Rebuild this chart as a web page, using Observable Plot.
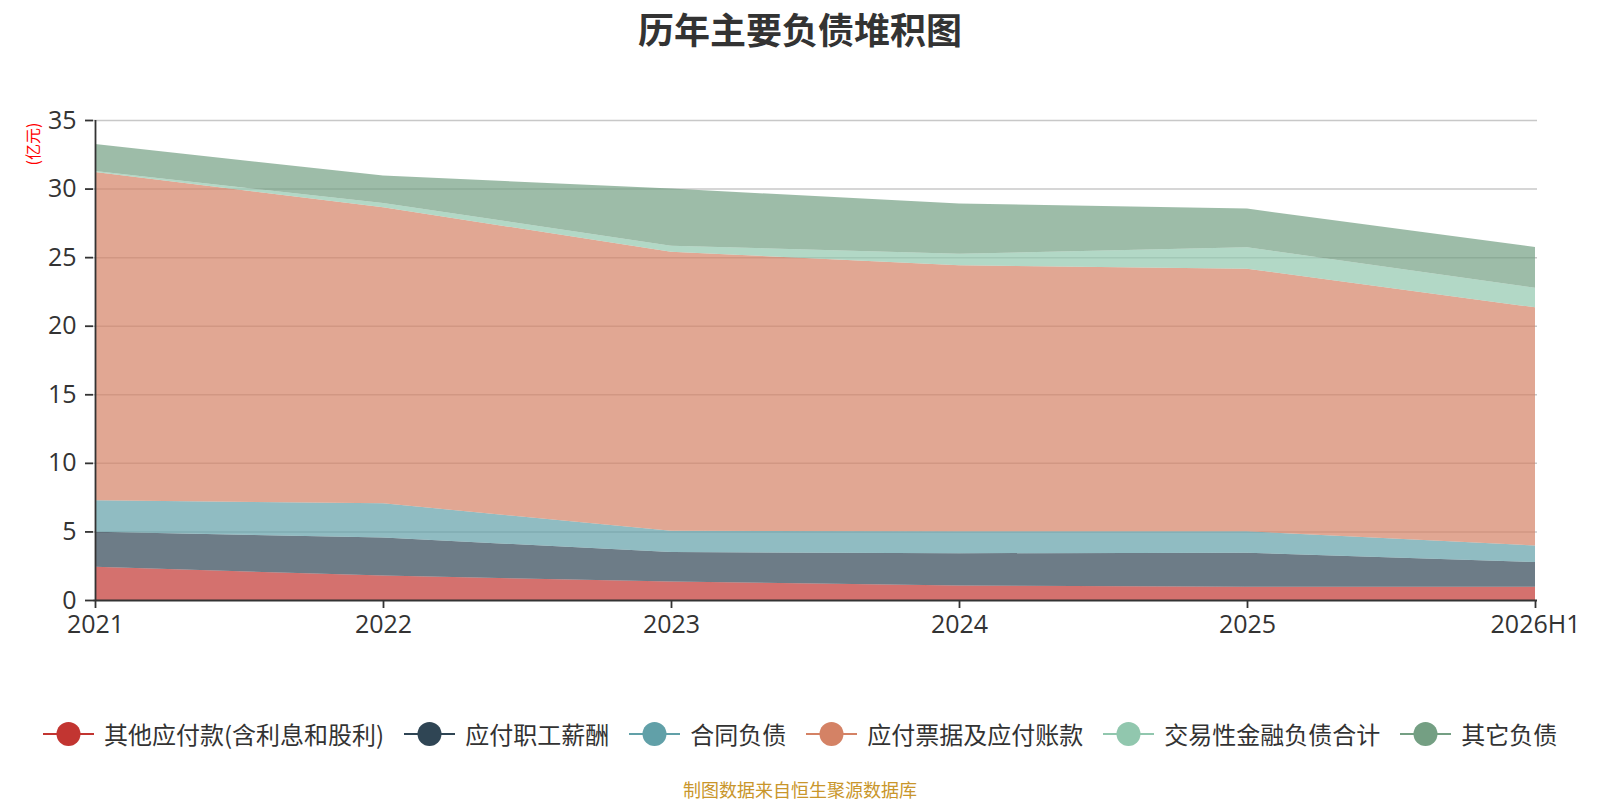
<!DOCTYPE html>
<html>
<head>
<meta charset="utf-8">
<script src="https://cdn.jsdelivr.net/npm/d3@7"></script>
<script src="https://cdn.jsdelivr.net/npm/@observablehq/plot@0.6"></script>
<style>
  html, body { margin: 0; padding: 0; background: #fff; }
  body { width: 1600px; height: 800px; position: relative; overflow: hidden;
         font-family: "Open Sans", "Noto Sans CJK SC", sans-serif; color: #333; }
  #title { position: absolute; top: 2px; left: 0; width: 1600px; text-align: center;
           font-size: 36px; font-weight: bold; font-family: "Noto Sans CJK SC", sans-serif; color: #333; }
  #chart { position: absolute; left: 0; top: 0; }
  #ylabel { position: absolute; left: 32px; top: 144px; transform: translate(-50%, -50%) rotate(-90deg);
            color: #ff0000; font-size: 16px; font-family: "Noto Sans CJK SC", sans-serif; white-space: nowrap; }
  #legend { position: absolute; top: 716px; left: 43px; display: flex; align-items: center;
            font-family: "Noto Sans CJK SC", sans-serif; font-size: 24px; color: #333; }
  .item { display: flex; align-items: center; margin-right: 20px; }
  .item svg { margin-right: 10px; }
  #caption { position: absolute; top: 776px; left: 0; width: 1600px; text-align: center;
             font-size: 18px; color: #c9962b; font-family: "Noto Sans CJK SC", sans-serif; }
</style>
</head>
<body>
<div id="title">历年主要负债堆积图</div>
<div id="chart"></div>
<div id="ylabel">(亿元)</div>
<div id="legend"></div>
<div id="caption">制图数据来自恒生聚源数据库</div>
<script>
const years = ["2021", "2022", "2023", "2024", "2025", "2026H1"];
const seriesNames = ["其他应付款(含利息和股利)", "应付职工薪酬", "合同负债", "应付票据及应付账款", "交易性金融负债合计", "其它负债"];
const otherPayables   = [2.42, 1.78, 1.35, 1.05, 0.97, 0.97];
const employeePay     = [2.55, 2.77, 2.15, 2.36, 2.48, 1.80];
const contractLiab    = [2.30, 2.50, 1.55, 1.60, 1.56, 1.20];
const notesPayable    = [23.93, 21.58, 20.35, 19.39, 19.15, 17.37];
const tradingLiab     = [0.08, 0.32, 0.43, 0.85, 1.56, 1.43];
const otherLiab       = [1.97, 2.00, 4.17, 3.66, 2.82, 2.97];
const yTicks = [0, 5, 10, 15, 20, 25, 30, 35];
const colors = ["#c23531", "#2f4554", "#61a0a8", "#d48265", "#91c7ae", "#749f83"];

const seriesValues = [otherPayables, employeePay, contractLiab, notesPayable, tradingLiab, otherLiab];
const rows = [];
seriesNames.forEach((s, i) => years.forEach((y, j) => rows.push({year: y, series: s, value: seriesValues[i][j]})));

const chart = Plot.plot({
  width: 1600,
  height: 650,
  marginTop: 120,
  marginLeft: 93,
  marginRight: 63,
  marginBottom: 50,
  style: {fontFamily: '"Open Sans", "Noto Sans CJK SC", sans-serif', fontSize: "25px", color: "#333", background: "transparent"},
  x: {type: "point", domain: years, padding: 0, label: null},
  y: {domain: [0, 35], label: null},
  color: {domain: seriesNames, range: colors},
  marks: [
    Plot.ruleY(yTicks.filter(d => d > 0), {stroke: "#c8c8c8", strokeWidth: 1.5}),
    Plot.areaY(rows, {x: "year", y: "value", fill: "series", order: seriesNames, fillOpacity: 0.7}),
    Plot.ruleY([0], {stroke: "#333", strokeWidth: 1.8}),
    Plot.ruleX([years[0]], {stroke: "#333", strokeWidth: 1.8}),
    Plot.axisX({tickSize: 8, tickPadding: 7, fontSize: 25, stroke: "#333", strokeWidth: 1.8}),
    Plot.axisY(yTicks, {tickSize: 8, tickPadding: 9, fontSize: 25, stroke: "#333", strokeWidth: 1.8})
  ]
});
document.getElementById("chart").appendChild(chart);

const legend = document.getElementById("legend");
seriesNames.forEach((s, i) => {
  const item = document.createElement("div");
  item.className = "item";
  item.innerHTML = `<svg width="51" height="26"><line x1="0" x2="51" y1="13" y2="13" stroke="${colors[i]}" stroke-width="2"/><circle cx="25.5" cy="13" r="12" fill="${colors[i]}"/></svg><span>${s}</span>`;
  legend.appendChild(item);
});
</script>
</body>
</html>
